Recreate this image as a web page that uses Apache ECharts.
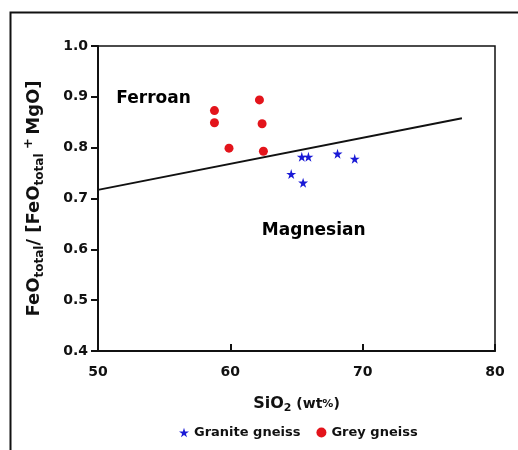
<!DOCTYPE html>
<html>
<head>
<meta charset="utf-8">
<script src="https://cdn.jsdelivr.net/npm/echarts@6/dist/echarts.min.js"></script>
<style>
html,body{margin:0;padding:0;background:#fff;}
#chart{width:518px;height:450px;}
</style>
</head>
<body>
<div id="chart"></div>
<script>
var xTicks = [50, 60, 70, 80];
var yTicks = [0.4, 0.5, 0.6, 0.7, 0.8, 0.9, 1.0];
var granite = [[65.4, 0.782], [65.9, 0.782], [68.1, 0.788], [69.4, 0.778], [64.6, 0.748], [65.5, 0.731]];
var grey = [[58.8, 0.873], [58.8, 0.849], [59.9, 0.799], [62.2, 0.894], [62.4, 0.847], [62.5, 0.793]];
var divider = [[50, 0.717], [77.5, 0.858]];
var fieldLabels = [{ name: 'Ferroan', x: 54.2, y: 0.896 }, { name: 'Magnesian', x: 66.3, y: 0.636 }];

var FONT = 'DejaVu Sans';
var starPath = 'path://M50,0 L61,35 L98,35 L68,57 L79,91 L50,70 L21,91 L32,57 L2,35 L39,35 Z';

var chart = echarts.init(document.getElementById('chart'));
chart.setOption({
  backgroundColor: '#fff',
  animation: false,
  graphic: [{
    type: 'rect', left: 8, top: 10,
    shape: { width: 540, height: 460 },
    style: { fill: 'none', stroke: '#111', lineWidth: 2 }, silent: true
  }],
  grid: { left: 98, top: 46, right: 23, bottom: 99, show: true, borderColor: '#111', borderWidth: 1.5, backgroundColor: 'transparent' },
  legend: {
    top: 421, left: 174, itemGap: 16, itemWidth: 10, itemHeight: 10,
    textStyle: { fontFamily: FONT, fontWeight: 'bold', fontSize: 13, color: '#111' },
    data: [{ name: 'Granite gneiss', icon: starPath }, { name: 'Grey gneiss', icon: 'circle' }]
  },
  xAxis: {
    type: 'value', min: xTicks[0], max: xTicks[xTicks.length - 1], interval: 10,
    axisLine: { lineStyle: { color: '#111', width: 2 } },
    axisTick: { inside: true, length: 7, lineStyle: { color: '#111', width: 2 } },
    axisLabel: { fontFamily: FONT, fontWeight: 'bold', fontSize: 14, color: '#111', margin: 14 },
    splitLine: { show: false },
    name: '{a|SiO}{s|2}{b| (wt}{p|%}{b|)}',
    nameLocation: 'middle', nameGap: 43,
    nameTextStyle: {
      rich: {
        a: { fontFamily: FONT, fontWeight: 'bold', fontSize: 16, color: '#111', lineHeight: 20 },
        s: { fontFamily: FONT, fontWeight: 'bold', fontSize: 11, color: '#111', verticalAlign: 'bottom', lineHeight: 20 },
        b: { fontFamily: FONT, fontWeight: 'bold', fontSize: 14, color: '#111', lineHeight: 20 },
        p: { fontFamily: FONT, fontWeight: 'bold', fontSize: 11, color: '#111', lineHeight: 20 }
      }
    }
  },
  yAxis: {
    type: 'value', min: yTicks[0], max: yTicks[yTicks.length - 1], interval: 0.1,
    axisLine: { lineStyle: { color: '#111', width: 2 } },
    axisTick: { inside: false, length: 7, lineStyle: { color: '#111', width: 2 } },
    axisLabel: { fontFamily: FONT, fontWeight: 'bold', fontSize: 14, color: '#111', margin: 10, formatter: function (v) { return v.toFixed(1); } },
    splitLine: { show: false },
    name: '{a|FeO}{s|total}{a|/ [FeO}{s|total}{p| +} {a|MgO]}',
    nameLocation: 'middle', nameGap: 52, nameRotate: 90,
    nameTextStyle: {
      rich: {
        a: { fontFamily: FONT, fontWeight: 'bold', fontSize: 18, color: '#111', lineHeight: 24 },
        s: { fontFamily: FONT, fontWeight: 'bold', fontSize: 12, color: '#111', verticalAlign: 'bottom', lineHeight: 24 },
        p: { fontFamily: FONT, fontWeight: 'bold', fontSize: 13, color: '#111', verticalAlign: 'top', lineHeight: 24 }
      }
    }
  },
  series: [
    {
      name: 'divider', type: 'line', data: divider, showSymbol: false, silent: true,
      lineStyle: { color: '#111', width: 2 }, z: 2
    },
    {
      name: 'labels', type: 'scatter', silent: true, symbolSize: 1,
      itemStyle: { color: 'rgba(0,0,0,0)', opacity: 1 },
      data: fieldLabels.map(function (d) { return { name: d.name, value: [d.x, d.y] }; }),
      label: { show: true, position: 'inside', formatter: '{b}', fontFamily: FONT, fontWeight: 'bold', fontSize: 17, color: '#000', textBorderWidth: 0, opacity: 1 }
    },
    {
      name: 'Granite gneiss', type: 'scatter', data: granite, symbol: starPath, symbolSize: 10,
      itemStyle: { color: '#1a1ad6', opacity: 1 }, z: 5
    },
    {
      name: 'Grey gneiss', type: 'scatter', data: grey, symbol: 'circle', symbolSize: 9,
      itemStyle: { color: '#e3141b', opacity: 1 }, z: 5
    }
  ]
});
</script>
</body>
</html>
